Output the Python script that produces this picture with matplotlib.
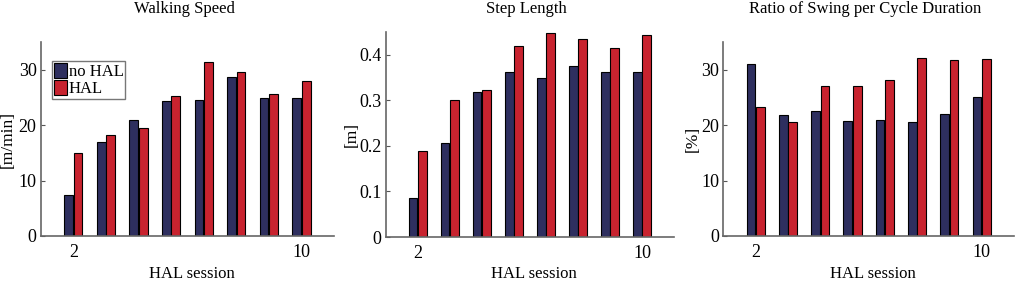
import numpy as np
import matplotlib
matplotlib.use("Agg")
import matplotlib.pyplot as plt

plt.rcParams['font.family'] = ['Liberation Serif', 'DejaVu Serif']

# groups: HAL sessions, only first and last labelled
n_groups = 8
tick_pos = [1, 8]
tick_labels = ["2", "10"]
series_names = ["no HAL", "HAL"]

speed_nohal = [7.4, 16.9, 21.0, 24.3, 24.6, 28.6, 24.9, 24.9]
speed_hal = [15.0, 18.3, 19.5, 25.3, 31.4, 29.6, 25.7, 28.0]

step_nohal = [0.086, 0.206, 0.318, 0.362, 0.348, 0.375, 0.362, 0.362]
step_hal = [0.189, 0.301, 0.322, 0.419, 0.447, 0.434, 0.415, 0.443]

swing_nohal = [31.0, 21.9, 22.5, 20.8, 21.0, 20.5, 22.0, 25.0]
swing_hal = [23.2, 20.5, 27.0, 27.1, 28.2, 32.2, 31.7, 31.9]

titles = ["Walking Speed", "Step Length", "Ratio of Swing per Cycle Duration"]
ylabels = ["[m/min]", "[m]", "[%]"]
ylims = [35, 0.45, 35]
yticks = [[0, 10, 20, 30], [0, 0.1, 0.2, 0.3, 0.4], [0, 10, 20, 30]]
ytick_labels = [["0", "10", "20", "30"], ["0", "0.1", "0.2", "0.3", "0.4"], ["0", "10", "20", "30"]]

blue = "#2e2f5f"
red = "#c8232f"

W, H = 1017, 284
fig = plt.figure(figsize=(W / 100, H / 100), dpi=100)

# axes boxes in pixels: left, right, top, bottom
boxes = [(40.7, 334, 42, 236), (385.7, 674, 32, 237), (723.3, 1014, 42, 236)]
data = [(speed_nohal, speed_hal), (step_nohal, step_hal), (swing_nohal, swing_hal)]
ylabel_x = [8, 352, 693]

x = np.arange(1, n_groups + 1)
bw = 0.27
off = 0.145

for i, (l, r, t, b) in enumerate(boxes):
    ax = fig.add_axes([l / W, (H - b) / H, (r - l) / W, (b - t) / H])
    nohal, hal = data[i]
    ax.bar(x - off, nohal, bw, color=blue, edgecolor="black", linewidth=0.8, label=series_names[0])
    ax.bar(x + off, hal, bw, color=red, edgecolor="black", linewidth=0.8, label=series_names[1])
    ax.set_xlim(0, 9)
    ax.set_ylim(0, ylims[i])
    ax.set_xticks(tick_pos)
    ax.set_xticklabels(tick_labels)
    ax.set_yticks(yticks[i])
    ax.set_yticklabels(ytick_labels[i])
    ax.tick_params(direction="in", length=3, width=0.8, color="#555555", labelsize=13, pad=3)
    ax.tick_params(axis="x", length=0, pad=6)
    for s in ["top", "right"]:
        ax.spines[s].set_visible(False)
    for s in ["left", "bottom"]:
        ax.spines[s].set_color("#666666")
        ax.spines[s].set_linewidth(1.2)
    fig.text((l + r) / 2 / W + 0.004, 1 - 274 / H, "HAL session", ha="center", va="center", fontsize=12)
    fig.text(ylabel_x[i] / W, 1 - ((t + b) / 2) / H, ylabels[i], ha="center", va="center",
             rotation=90, fontsize=12.5)
    fig.text((l + r) / 2 / W - 0.003, 1 - 9 / H, titles[i], ha="center", va="center", fontsize=12)
    if i == 0:
        ax.legend(loc="upper left", bbox_to_anchor=(0.039, 0.9), fontsize=12, frameon=True,
                  fancybox=False, edgecolor="#555555", handlelength=0.8, handleheight=1.0,
                  handletextpad=0.1, borderpad=0.1, labelspacing=0.0, borderaxespad=0)

fig.savefig("out.png", dpi=100)
